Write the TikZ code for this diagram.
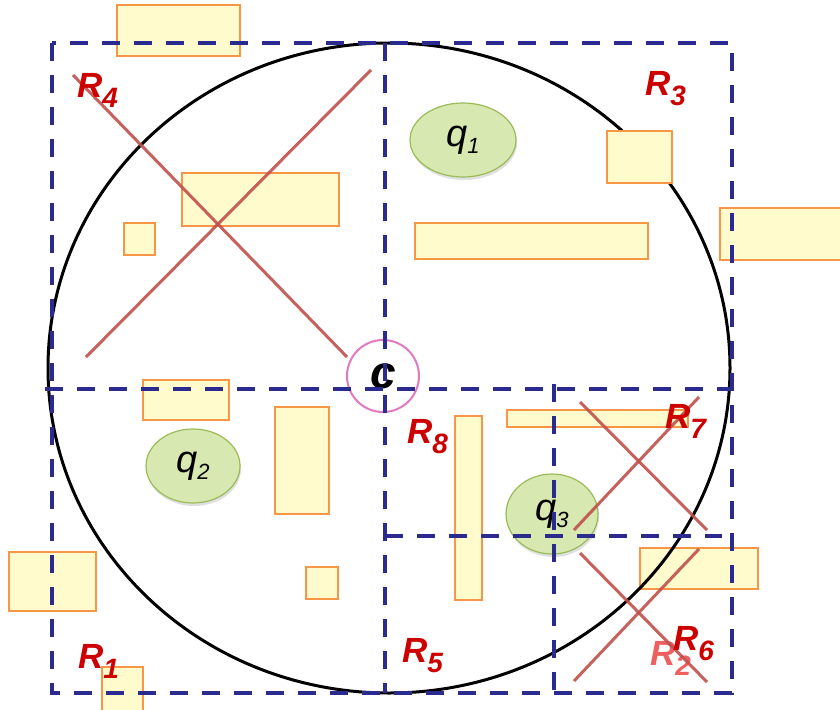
\documentclass[tikz,border=0pt]{standalone}
\usepackage{fontspec}
\setmainfont{Liberation Sans}
\usetikzlibrary{shapes.geometric,shadows}
\definecolor{regblue}{RGB}{43,42,143}
\definecolor{labred}{RGB}{204,0,0}
\definecolor{labpale}{RGB}{238,96,96}
\definecolor{crossred}{RGB}{192,80,77}
\definecolor{objfill}{RGB}{255,251,204}
\definecolor{objdraw}{RGB}{247,150,70}
\definecolor{qfill}{RGB}{215,232,176}
\definecolor{qdraw}{RGB}{155,187,89}
\definecolor{cpink}{RGB}{226,122,192}
\newcommand{\regname}[1]{R\raisebox{-10pt}{\fontsize{28}{28}\selectfont #1}}
\newcommand{\qname}[1]{q\raisebox{-7pt}{\fontsize{22}{22}\selectfont #1}}

\begin{document}
\begin{tikzpicture}[x=1pt,y=-1pt,
  obj/.style={draw=objdraw,fill=objfill,line width=1.5pt},
  qry/.style={ellipse,draw=qdraw,line width=1.2pt,fill=qfill,inner sep=0pt,
    drop shadow={opacity=0.25,shadow xshift=1pt,shadow yshift=-3pt},
    font=\fontsize{38}{38}\selectfont\itshape},
  region/.style={draw=regblue,line width=3.5pt,dash pattern=on 18pt off 14pt},
  prune/.style={draw=crossred,line width=3pt,opacity=0.9},
  lbl/.style={anchor=base west,inner sep=0pt,text=labred,
    font=\fontsize{35}{35}\selectfont\bfseries\itshape}]
\useasboundingbox (0,0) rectangle (840,709);
\clip (0,0) rectangle (840,709);
\draw[obj] (640,548) rectangle (758,589);
\draw[line width=3pt] (389,368) ellipse [x radius=341, y radius=325];
\draw[obj] (117,5) rectangle (240,56);
\draw[obj] (182,173) rectangle (339,226);
\draw[obj] (124,223) rectangle (155,255);
\draw[obj] (607,131) rectangle (672,183);
\draw[obj] (415,223) rectangle (648,259);
\draw[obj] (720,208) rectangle (850,260);
\draw[obj] (143,380) rectangle (229,420);
\draw[obj] (275,407) rectangle (329,514);
\draw[obj] (9,552) rectangle (96,611);
\draw[obj] (306,567) rectangle (338,599);
\draw[obj] (102,667) rectangle (143,720);
\draw[obj] (455,416) rectangle (482,600);
\draw[obj] (507,410) rectangle (688,427);
\node[qry,minimum width=106pt,minimum height=74pt] (q1) at (463,140) {\qname{1}};
\node[qry,minimum width=94pt,minimum height=74pt] (q2) at (193,466) {\qname{2}};
\node[qry,minimum width=92pt,minimum height=80pt] (q3) at (552,514) {\qname{3}};
\node[circle,draw=cpink,line width=2pt,fill=white,minimum size=72pt,inner sep=0pt,
  font=\fontsize{46}{46}\selectfont\bfseries\itshape] (c) at (383,376) {c};
\draw[region] (52,43) rectangle (732,693);
\draw[region] (385,43) -- (385,693);
\draw[region] (45,389) -- (732,389);
\draw[region] (554,384) -- (554,693);
\draw[region] (385,536) -- (722,536);
\draw[prune] (73,75) -- (347,357);
\draw[prune] (371,70) -- (86,357);
\draw[prune] (580,402) -- (707,530);
\draw[prune] (699,397) -- (574,530);
\node[lbl,text=labpale] (r2) at (650,665) {\regname{2}};
\draw[prune] (580,553) -- (707,682);
\draw[prune] (699,549) -- (574,681);
\node[lbl] (r4) at (77,97) {\regname{4}};
\node[lbl] (r3) at (645,95) {\regname{3}};
\node[lbl] (r1) at (78,668) {\regname{1}};
\node[lbl] (r5) at (402,662) {\regname{5}};
\node[lbl] (r8) at (407,443) {\regname{8}};
\node[lbl] (r7) at (665,428) {\regname{7}};
\node[lbl] (r6) at (673,650) {\regname{6}};
\end{tikzpicture}
\end{document}
